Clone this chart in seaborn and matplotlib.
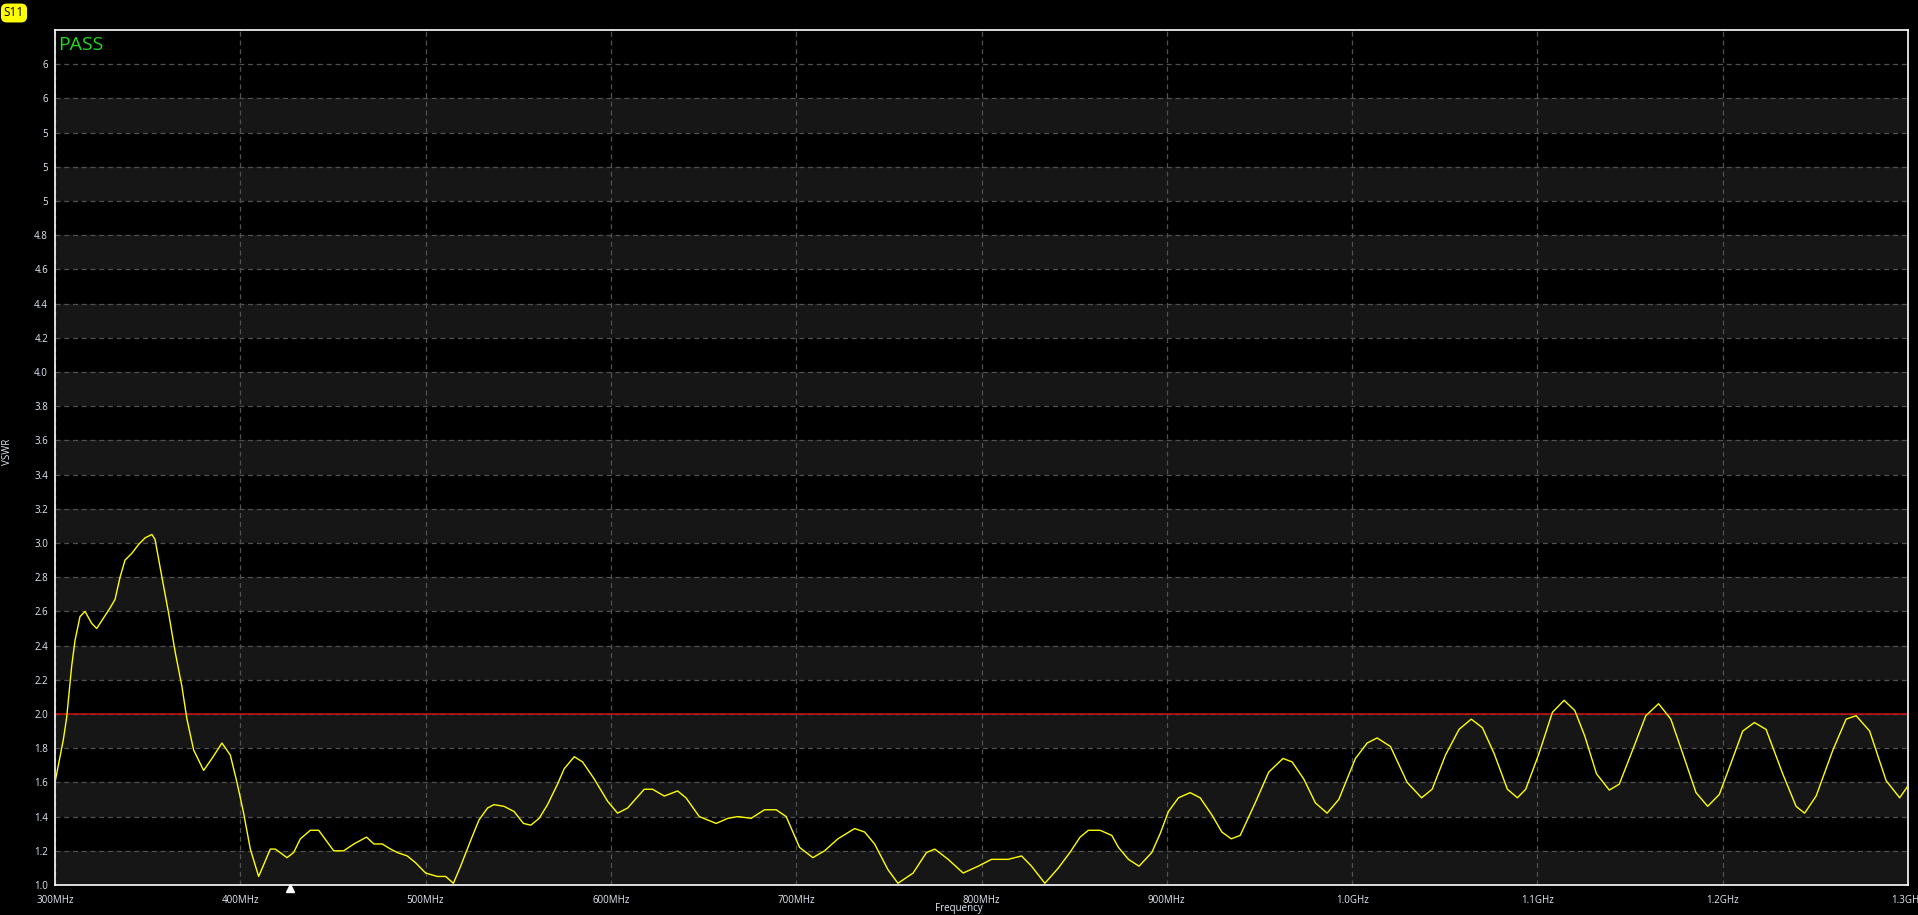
import numpy as np
import pandas as pd
import matplotlib
matplotlib.use('Agg')
import matplotlib.pyplot as plt
import seaborn as sns

# VSWR trace (MHz, VSWR)
freq_mhz = [300, 304.5, 306.3, 307.2, 309, 310.8, 313.5, 316.2, 319.8, 322.5,
            326.1, 329.7, 332.4, 335.1, 337.8, 341.5, 345, 348.6, 352.3, 354,
            357.7, 361.3, 364.9, 368.5, 371.2, 374.8, 380.2, 384.7, 390.1, 394.6,
            398.2, 401.8, 405.4, 409.9, 416.2, 418.9, 425.2, 428.8, 432.4, 437.8,
            442.3, 450.4, 455.8, 461.3, 468.1, 472.1, 476.6, 481.1, 484.7, 490.1,
            494.6, 500, 506.3, 510.8, 515, 518.9, 524.3, 528.8, 533.4, 536.9,
            542.3, 547.7, 552.8, 556.8, 561.3, 565.8, 571.2, 574.8, 580.2, 584.7,
            591, 598.2, 603.6, 609, 618, 622.5, 628.8, 636, 640.5, 647.7,
            656.8, 663.1, 668.5, 675.7, 682.9, 689.2, 694.6, 701.8, 709, 715.3,
            722.5, 731.5, 736.9, 742.3, 749.5, 754.9, 763.1, 770.3, 774.8, 782,
            790.1, 798.2, 805.4, 814.4, 821.6, 827, 834.2, 841.5, 847.7, 853.2,
            857.7, 864, 870.3, 873.9, 879.3, 885, 891.9, 896.4, 900.9, 906.3,
            912.6, 918, 924.3, 929.7, 934.8, 939.6, 947.7, 955, 962.7, 967.6,
            973.9, 980.2, 986.5, 992.8, 1001.8, 1008.1, 1013.5, 1020.7, 1029.7, 1037.5,
            1043.2, 1050.4, 1057.7, 1064.3, 1070.3, 1076.6, 1083.8, 1089.2, 1093.7, 1100.9,
            1108.1, 1114.4, 1120.2, 1125.6, 1131.9, 1138.8, 1144.2, 1151.4, 1158.5, 1165.4,
            1172, 1178.4, 1185.6, 1191.9, 1198.2, 1205.4, 1210.8, 1217.1, 1223.4, 1232.4,
            1239.6, 1244.2, 1250.4, 1259.5, 1266.6, 1272, 1279.3, 1288.2, 1295.5, 1300]
vswr = [1.60, 1.85, 1.98, 2.08, 2.28, 2.43, 2.57, 2.60, 2.53, 2.50,
        2.56, 2.62, 2.67, 2.80, 2.90, 2.94, 2.99, 3.03, 3.05, 3.02,
        2.80, 2.59, 2.36, 2.16, 1.97, 1.79, 1.67, 1.74, 1.83, 1.76,
        1.60, 1.42, 1.21, 1.05, 1.21, 1.21, 1.16, 1.19, 1.27, 1.32,
        1.32, 1.20, 1.20, 1.24, 1.28, 1.24, 1.24, 1.21, 1.19, 1.17,
        1.13, 1.07, 1.05, 1.05, 1.01, 1.11, 1.26, 1.38, 1.45, 1.47,
        1.46, 1.43, 1.36, 1.35, 1.39, 1.47, 1.59, 1.68, 1.75, 1.72,
        1.62, 1.49, 1.42, 1.45, 1.56, 1.56, 1.52, 1.55, 1.51, 1.40,
        1.36, 1.39, 1.40, 1.39, 1.44, 1.44, 1.40, 1.22, 1.16, 1.20,
        1.27, 1.33, 1.31, 1.24, 1.09, 1.01, 1.07, 1.19, 1.21, 1.15,
        1.07, 1.11, 1.15, 1.15, 1.17, 1.11, 1.01, 1.10, 1.19, 1.28,
        1.32, 1.32, 1.29, 1.22, 1.15, 1.11, 1.19, 1.30, 1.43, 1.51,
        1.54, 1.51, 1.41, 1.31, 1.27, 1.29, 1.48, 1.66, 1.74, 1.72,
        1.62, 1.48, 1.42, 1.50, 1.74, 1.83, 1.86, 1.81, 1.60, 1.51,
        1.56, 1.76, 1.91, 1.97, 1.92, 1.77, 1.56, 1.51, 1.56, 1.77,
        2.01, 2.08, 2.02, 1.87, 1.65, 1.555, 1.59, 1.79, 1.99, 2.06,
        1.97, 1.77, 1.54, 1.46, 1.53, 1.74, 1.90, 1.95, 1.91, 1.65,
        1.46, 1.42, 1.52, 1.79, 1.97, 1.99, 1.90, 1.61, 1.51, 1.58]

limit_vswr = 2.0
marker_mhz = 427

x_ticks = [300, 400, 500, 600, 700, 800, 900, 1000, 1100, 1200, 1300]
x_labels = ['300MHz', '400MHz', '500MHz', '600MHz', '700MHz', '800MHz',
            '900MHz', '1.0GHz', '1.1GHz', '1.2GHz', '1.3GHz']
y_ticks = [1.0, 1.2, 1.4, 1.6, 1.8, 2.0, 2.2, 2.4, 2.6, 2.8, 3.0, 3.2, 3.4,
           3.6, 3.8, 4.0, 4.2, 4.4, 4.6, 4.8, 5.0, 5.2, 5.4, 5.6, 5.8]
y_labels = ['1.0', '1.2', '1.4', '1.6', '1.8', '2.0', '2.2', '2.4', '2.6', '2.8',
            '3.0', '3.2', '3.4', '3.6', '3.8', '4.0', '4.2', '4.4', '4.6', '4.8',
            '5', '5', '5', '6', '6']

df = pd.DataFrame({'freq': freq_mhz, 'vswr': vswr})

sns.set_theme(style='dark')
plt.rcParams['font.family'] = ['Open Sans', 'DejaVu Sans']

W, H = 1918, 915
fig = plt.figure(figsize=(W / 100, H / 100), dpi=100, facecolor='black')
ax = fig.add_axes([55 / W, 30 / H, 1853 / W, 855 / H])
ax.set_facecolor('black')

# alternating grey bands
for i in range(0, 23, 2):
    ax.axhspan(y_ticks[i], y_ticks[i + 1], color='#161616', lw=0, zorder=0)

ax.grid(True, color='#505050', ls=(0, (4, 3)), lw=0.9, zorder=1)
ax.axhline(limit_vswr, color='#d01010', lw=1.1, zorder=2)

sns.lineplot(data=df, x='freq', y='vswr', ax=ax, color='#ffff00', lw=1.0,
             zorder=3, legend=False)

ax.set_xlim(300, 1300)
ax.set_ylim(1.0, 6.0)
ax.set_xticks(x_ticks)
ax.set_xticklabels(x_labels)
ax.set_yticks(y_ticks)
ax.set_yticklabels(y_labels)
ax.tick_params(axis='both', colors='white', labelcolor='#e2eaf4', labelsize=7,
               length=3, width=1, direction='out')
ax.tick_params(axis='x', pad=4)
ax.tick_params(axis='y', pad=2)
ax.set_xlabel('')
ax.set_ylabel('')
for s in ax.spines.values():
    s.set_visible(True)
    s.set_color('white')
    s.set_linewidth(1.2)

# marker triangle below the axis
ax.plot([marker_mhz], [0.985], marker='^', color='white', ms=6, clip_on=False,
        zorder=5)

fig.text(959 / W, 1 - 908 / H, 'Frequency', ha='center', va='center',
         fontsize=7, color='#e2eaf4')
fig.text(7 / W, 1 - 452 / H, 'VSWR', ha='center', va='center', rotation=90,
         fontsize=7, color='#e2eaf4')
fig.text(58 / W, 1 - 45 / H, 'PASS', ha='left', va='center', fontsize=14,
         color='#1ed81e')
fig.text(14 / W, 1 - 13 / H, 'S11', ha='center', va='center', fontsize=8.5,
         color='black',
         bbox=dict(boxstyle='round,pad=0.25,rounding_size=0.5', fc='#ffff00',
                   ec='none'))

fig.savefig('out.png', dpi=100, facecolor='black')
